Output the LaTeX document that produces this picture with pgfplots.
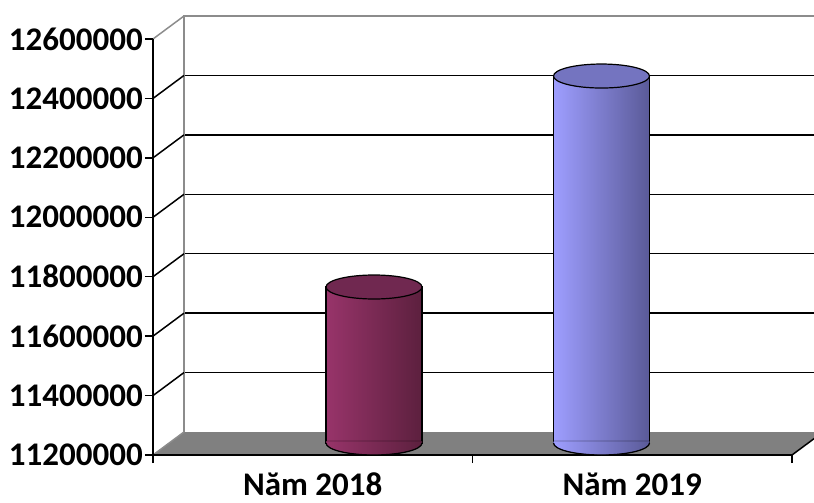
\documentclass[border=0pt]{standalone}
\usepackage{pgfplots}
\pgfplotsset{compat=1.18}
\usepackage{fontspec}
\setmainfont{Carlito}

\definecolor{floorgray}{RGB}{128,128,128}
\definecolor{edgegray}{RGB}{140,140,140}
\definecolor{maroonL}{RGB}{152,52,106}
\definecolor{maroonR}{RGB}{92,32,62}
\definecolor{maroonT}{RGB}{112,40,80}
\definecolor{blueL}{RGB}{158,158,255}
\definecolor{blueR}{RGB}{90,90,152}
\definecolor{blueT}{RGB}{116,116,192}

% cylinder caps
\pgfdeclareplotmark{topA}{\path[fill=maroonT,draw=black,line width=1.2pt,rotate=4] (0pt,0pt) ellipse [x radius=48pt,y radius=12pt];}
\pgfdeclareplotmark{topB}{\path[fill=blueT,draw=black,line width=1.2pt,rotate=4] (0pt,0pt) ellipse [x radius=48pt,y radius=12pt];}
\pgfdeclareplotmark{botA}{%
  \path[left color=maroonL,right color=maroonR] (-48pt,2pt) -- (-48pt,0pt) arc [start angle=180,end angle=360,x radius=48pt,y radius=12pt] -- (48pt,2pt) -- cycle;
  \draw[black,line width=1.2pt] (-48pt,0pt) arc [start angle=180,end angle=360,x radius=48pt,y radius=12pt];}
\pgfdeclareplotmark{botB}{%
  \path[left color=blueL,right color=blueR] (-48pt,2pt) -- (-48pt,0pt) arc [start angle=180,end angle=360,x radius=48pt,y radius=12pt] -- (48pt,2pt) -- cycle;
  \draw[black,line width=1.2pt] (-48pt,0pt) arc [start angle=180,end angle=360,x radius=48pt,y radius=12pt];}

\begin{document}
\begin{tikzpicture}
\useasboundingbox (0pt,0pt) rectangle (814pt,-503pt);

% back wall
\begin{axis}[
  at={(184pt,-432pt)}, anchor=south west, scale only axis,
  width=639pt, height=416pt,
  xmin=0, xmax=2, ymin=11200000, ymax=12600000,
  axis line style={draw=none}, ticks=none,
  clip=false
]
\addplot[draw=black, line width=1.5pt, forget plot] coordinates {(0,11400000) (2,11400000)};
\addplot[draw=black, line width=1.5pt, forget plot] coordinates {(0,11600000) (2,11600000)};
\addplot[draw=black, line width=1.5pt, forget plot] coordinates {(0,11800000) (2,11800000)};
\addplot[draw=black, line width=1.5pt, forget plot] coordinates {(0,12000000) (2,12000000)};
\addplot[draw=black, line width=1.5pt, forget plot] coordinates {(0,12200000) (2,12200000)};
\addplot[draw=black, line width=1.5pt, forget plot] coordinates {(0,12400000) (2,12400000)};
\draw[edgegray, line width=1.5pt] (axis cs:0,11200000) -- (axis cs:0,12600000) -- (axis cs:2,12600000);
\end{axis}

% front plane: floor, side wall, axes
\begin{axis}[
  at={(153pt,-455pt)}, anchor=south west, scale only axis,
  width=639pt, height=416pt,
  xmin=0, xmax=2, ymin=11200000, ymax=12600000,
  axis lines=left, axis line style={-, black, line width=1.5pt},
  axis on top, clip=false,
  tick align=outside, major tick length=8pt,
  tick style={black, line width=1.5pt},
  xtick={0,1,2}, xticklabels={},
  extra x ticks={0.5,1.5},
  extra x tick labels={Năm 2018, Năm 2019},
  extra x tick style={major tick length=0pt,
    xticklabel style={anchor=base, yshift=-40pt, text depth=0pt, inner sep=0pt}},
  ytick={11200000,11400000,11600000,11800000,12000000,12200000,12400000,12600000},
  yticklabels={11200000,11400000,11600000,11800000,12000000,12200000,12400000,12600000},
  scaled y ticks=false,
  ticklabel style={font=\fontsize{33}{38}\selectfont\bfseries},
  yticklabel style={anchor=east, inner sep=0pt, xshift=-2pt}
]
\fill[floorgray] (axis cs:0,11200000) -- (axis cs:2,11200000) -- ++(31pt,23pt) -- ++(-639pt,0pt) -- cycle;
\draw[edgegray, line width=1.5pt] (axis cs:0,11200000) -- ++(31pt,23pt);
\draw[black, line width=1.5pt] (axis cs:2,11200000) -- ++(31pt,23pt);
\draw[black, line width=1.5pt] (axis cs:0,11400000) -- ++(31pt,23pt);
\draw[black, line width=1.5pt] (axis cs:0,11600000) -- ++(31pt,23pt);
\draw[black, line width=1.5pt] (axis cs:0,11800000) -- ++(31pt,23pt);
\draw[black, line width=1.5pt] (axis cs:0,12000000) -- ++(31pt,23pt);
\draw[black, line width=1.5pt] (axis cs:0,12200000) -- ++(31pt,23pt);
\draw[black, line width=1.5pt] (axis cs:0,12400000) -- ++(31pt,23pt);
\draw[edgegray, line width=1.5pt] (axis cs:0,12600000) -- ++(31pt,23pt);
\end{axis}

% cylinders, on the mid-depth plane
\begin{axis}[
  at={(260.25pt,-443pt)}, anchor=south west, scale only axis,
  width=455pt, height=416pt,
  xmin=-0.5, xmax=1.5, ymin=11200000, ymax=12600000,
  hide axis, clip mode=individual
]
\addplot[ybar, bar width=96pt, bar shift=0pt, draw=black, line width=1.2pt,
  left color=maroonL, right color=maroonR] coordinates {(0,11725000)};
\addplot[only marks, mark=botA] coordinates {(0,11200000)};
\addplot[only marks, mark=topA] coordinates {(0,11725000)};
\addplot[ybar, bar width=96pt, bar shift=0pt, draw=black, line width=1.2pt,
  left color=blueL, right color=blueR] coordinates {(1,12435000)};
\addplot[only marks, mark=botB] coordinates {(1,11200000)};
\addplot[only marks, mark=topB] coordinates {(1,12435000)};
\end{axis}
\end{tikzpicture}
\end{document}
